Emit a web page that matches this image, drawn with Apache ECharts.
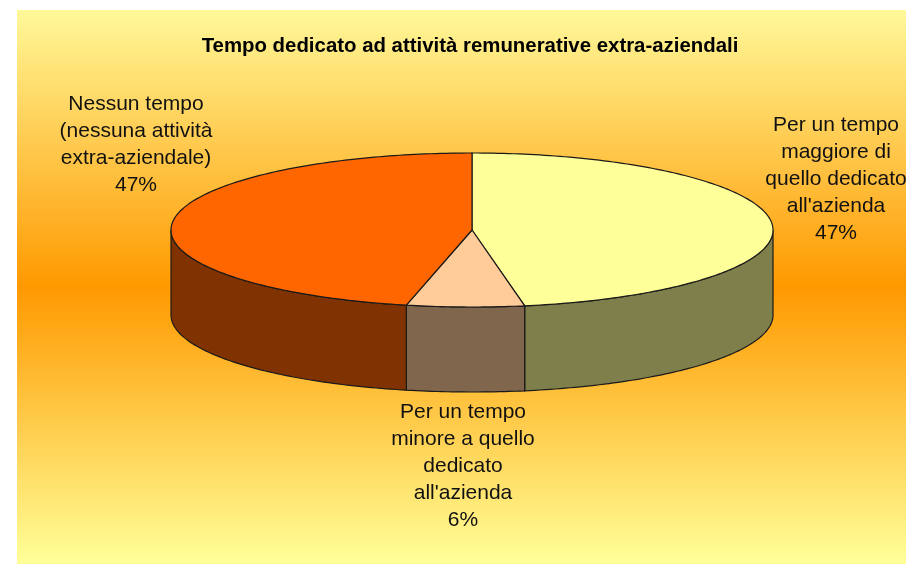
<!DOCTYPE html>
<html>
<head>
<meta charset="utf-8">
<script src="https://cdn.jsdelivr.net/npm/echarts@6/dist/echarts.min.js"></script>
<style>
  html, body { margin: 0; padding: 0; background: #fff; }
  #chart { width: 906px; height: 564px; }
</style>
</head>
<body>
<div id="chart"></div>
<script>
  // dati
  var chartTitle = 'Tempo dedicato ad attività remunerative extra-aziendali';
  var categories = [
    "Per un tempo maggiore di quello dedicato all'azienda",
    "Per un tempo minore a quello dedicato all'azienda",
    'Nessun tempo (nessuna attività extra-aziendale)'
  ];
  var labelLines = [
    ['Per un tempo', 'maggiore di', 'quello dedicato', "all'azienda"],
    ['Per un tempo', 'minore a quello', 'dedicato', "all'azienda"],
    ['Nessun tempo', '(nessuna attività', 'extra-aziendale)']
  ];
  var shares = [47.2, 6.3, 46.5];

  // stile
  var topColors = ['#FFFF99', '#FFCC99', '#FF6600'];
  var sideColors = ['#7F7F4C', '#7F664C', '#803300'];
  var labelPos = [[836, 179], [463, 466], [136, 145]];
  var cx = 472, cy = 230, rx = 301, ry = 77, depth = 85;
  var labelFont = '21px "Liberation Sans", Arial, sans-serif';

  var total = shares.reduce(function (a, b) { return a + b; }, 0);
  var startAngle = [];
  var acc = 0;
  shares.forEach(function (v) {
    startAngle.push(acc / total * 360);
    acc += v;
  });

  function pt(deg, dy) {
    var r = deg * Math.PI / 180;
    return [cx + rx * Math.sin(r), cy - ry * Math.cos(r) + (dy || 0)];
  }

  function arc(a, b, dy) {
    var pts = [];
    var n = Math.max(2, Math.ceil(b - a));
    for (var k = 0; k <= n; k++) {
      pts.push(pt(a + (b - a) * k / n, dy));
    }
    return pts;
  }

  function renderSlice(params, api) {
    var i = params.dataIndex;
    var v = api.value(0);
    var a = startAngle[i];
    var b = a + v / total * 360;
    var children = [];

    // parete laterale (solo la metà davanti)
    var s = Math.max(a, 90), e = Math.min(b, 270);
    if (s < e) {
      var side = arc(s, e, 0).concat(arc(s, e, depth).reverse());
      children.push({
        type: 'polygon',
        shape: { points: side },
        style: { fill: sideColors[i], stroke: '#1a1a1a', lineWidth: 1.2 }
      });
    }

    // faccia superiore
    children.push({
      type: 'polygon',
      shape: { points: [[cx, cy]].concat(arc(a, b, 0)) },
      style: { fill: topColors[i], stroke: '#1a1a1a', lineWidth: 1.2 }
    });

    children.push({
      type: 'text',
      x: labelPos[i][0],
      y: labelPos[i][1],
      z2: 10,
      style: {
        text: labelLines[i].concat(Math.round(v / total * 100) + '%').join('\n'),
        align: 'center',
        verticalAlign: 'middle',
        font: labelFont,
        lineHeight: 27,
        fill: '#111'
      }
    });

    return { type: 'group', children: children };
  }

  var myChart = echarts.init(document.getElementById('chart'));

  var option = {
    animation: false,
    title: {
      text: chartTitle,
      left: 465,
      top: 31,
      textAlign: 'center',
      textStyle: {
        fontFamily: '"Liberation Sans", Arial, sans-serif',
        fontSize: 20.4,
        fontWeight: 'bold',
        color: '#000'
      }
    },
    graphic: [{
      type: 'rect',
      z: -10,
      silent: true,
      shape: { x: 17, y: 10, width: 889, height: 554 },
      style: {
        fill: new echarts.graphic.LinearGradient(0, 0, 0, 1, [
          { offset: 0, color: '#FFF899' },
          { offset: 0.5, color: '#FF9900' },
          { offset: 1, color: '#FFFF99' }
        ])
      }
    }],
    series: [{
      type: 'custom',
      coordinateSystem: 'none',
      silent: true,
      renderItem: renderSlice,
      data: shares.map(function (v, i) { return { name: categories[i], value: [v] }; })
    }]
  };

  myChart.setOption(option);
</script>
</body>
</html>
